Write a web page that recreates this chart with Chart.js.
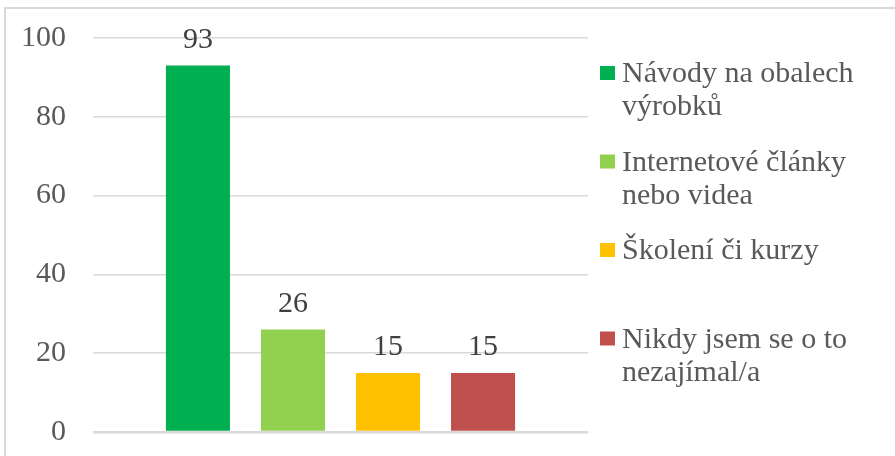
<!DOCTYPE html>
<html>
<head>
<meta charset="utf-8">
<script src="https://cdn.jsdelivr.net/npm/chart.js@4/dist/chart.umd.min.js"></script>
<style>
  body { margin: 0; background: #fff; overflow: hidden; }
  #frame {
    position: absolute; left: 4px; top: 7px;
    width: 1000px; height: 600px;
    border: 2px solid #d9d9d9;
  }
  #wrap { position: absolute; left: 0; top: 0; width: 895px; height: 456px; }
</style>
</head>
<body>
<div id="frame"></div>
<div id="wrap"><canvas id="chart"></canvas></div>
<script>
const categories = [
  ['Návody na obalech', 'výrobků'],
  ['Internetové články', 'nebo videa'],
  ['Školení či kurzy'],
  ['Nikdy jsem se o to', 'nezajímal/a']
];
const values = [93, 26, 15, 15];
const colors = ['#00b050', '#92d050', '#ffc000', '#c0504d'];
const yTicks = [0, 20, 40, 60, 80, 100];

const serif = '"Liberation Serif", "Times New Roman", serif';

// value labels above each bar
const barLabels = {
  id: 'barLabels',
  afterDatasetsDraw(chart) {
    const ctx = chart.ctx;
    ctx.save();
    ctx.font = '30px ' + serif;
    ctx.fillStyle = '#404040';
    ctx.textAlign = 'center';
    ctx.textBaseline = 'alphabetic';
    chart.data.datasets.forEach((ds, i) => {
      const bar = chart.getDatasetMeta(i).data[0];
      ctx.fillText(ds.data[0], bar.x, bar.y - 18);
    });
    ctx.restore();
  }
};

// Excel-like legend on the right, evenly spaced entries with wrapped text
const sideLegend = {
  id: 'sideLegend',
  afterDraw(chart) {
    const ctx = chart.ctx;
    const area = chart.chartArea;
    const boxX = area.right + 12;
    const textX = boxX + 22;
    const firstBase = area.top + 44;
    const step = 88.5;
    const lineH = 33;
    ctx.save();
    ctx.font = '30px ' + serif;
    ctx.textAlign = 'left';
    ctx.textBaseline = 'alphabetic';
    chart.data.datasets.forEach((ds, i) => {
      const base = firstBase + step * i;
      ctx.fillStyle = ds.backgroundColor;
      ctx.fillRect(boxX, base - 16, 15, 14);
      ctx.fillStyle = '#595959';
      ds.label.forEach((line, j) => ctx.fillText(line, textX, base + lineH * j));
    });
    ctx.restore();
  }
};

new Chart(document.getElementById('chart'), {
  type: 'bar',
  data: {
    labels: [''],
    datasets: categories.map((c, i) => ({
      label: c,
      data: [values[i]],
      backgroundColor: colors[i],
      categoryPercentage: 0.768,
      barPercentage: 0.674
    }))
  },
  options: {
    responsive: true,
    maintainAspectRatio: false,
    animation: false,
    layout: { padding: { top: 38, bottom: 24, left: 0, right: 307 } },
    plugins: {
      tooltip: { enabled: false },
      legend: { display: false }
    },
    scales: {
      x: { display: false },
      y: {
        min: 0,
        max: 100,
        afterBuildTicks: (axis) => { axis.ticks = yTicks.map(v => ({ value: v })); },
        afterFit: (axis) => {
          axis.width = 93;
          axis.paddingTop = 0;
          axis.paddingBottom = 0;
        },
        border: { display: false },
        grid: {
          color: '#d9d9d9',
          lineWidth: (c) => c.tick && c.tick.value === 0 ? 2.5 : 1.5,
          drawTicks: false
        },
        ticks: {
          padding: 27,
          color: '#595959',
          font: { family: serif, size: 30 }
        }
      }
    }
  },
  plugins: [barLabels, sideLegend]
});
</script>
</body>
</html>
